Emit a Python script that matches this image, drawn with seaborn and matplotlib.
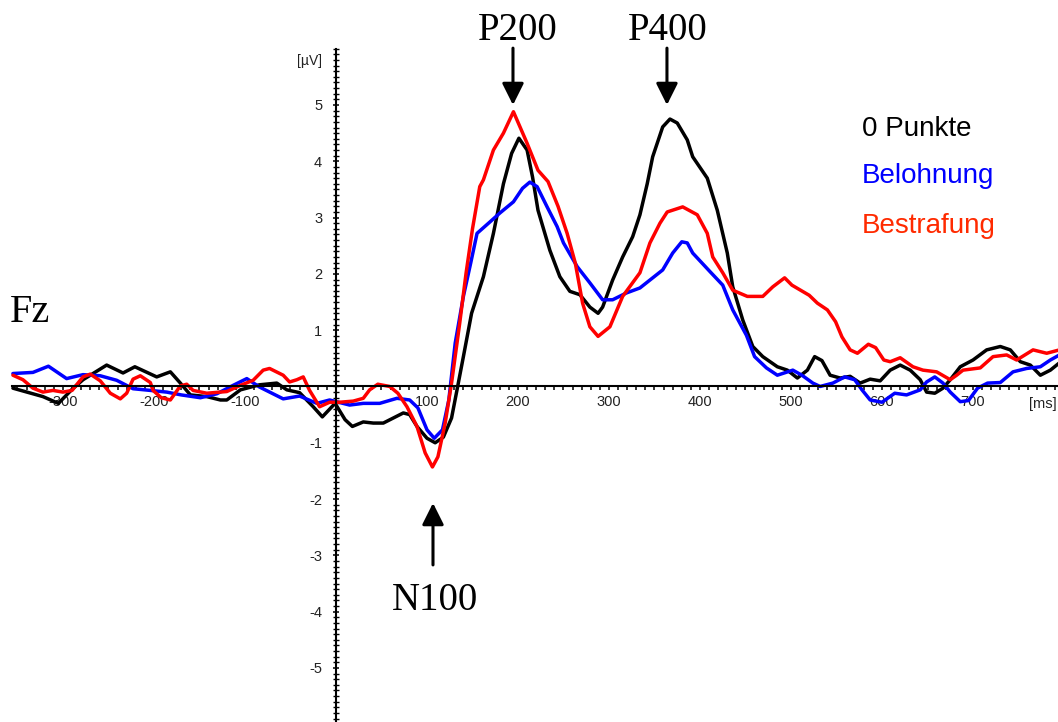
import numpy as np
import pandas as pd
import matplotlib
matplotlib.use("Agg")
import matplotlib.pyplot as plt
from matplotlib.ticker import FixedLocator
import seaborn as sns

# ---------------- data ----------------
t_black = [-355, -322, -305, -290, -278, -265, -252, -234, -221, -197, -182, -171, -160, -142, -127,
           -120, -105, -84, -65, -54, -40, -25, -15, -1, 10, 18, 30, 41, 52, 63, 74, 81, 89, 100,
           109, 118, 127, 133, 140, 149, 162, 173, 184, 193, 201, 210, 216, 222, 235, 246, 257,
           268, 279, 288, 293, 304, 315, 326, 334, 342, 348, 359, 367, 375, 386, 392, 408, 419,
           430, 436, 447, 458, 469, 485, 496, 507, 518, 526, 534, 543, 554, 565, 576, 587, 598,
           609, 620, 631, 642, 649, 658, 667, 675, 686, 700, 715, 730, 741, 752, 763, 774, 785, 795]
v_black = [-0.03, -0.18, -0.30, -0.05, 0.12, 0.25, 0.38, 0.24, 0.35, 0.17, 0.26, 0.06, -0.15, -0.18,
           -0.24, -0.24, -0.06, 0.03, 0.06, -0.06, -0.11, -0.36, -0.54, -0.30, -0.59, -0.71, -0.63,
           -0.65, -0.65, -0.56, -0.47, -0.50, -0.71, -0.92, -1.00, -0.90, -0.56, -0.06, 0.53, 1.30,
           1.95, 2.72, 3.60, 4.14, 4.41, 4.20, 3.72, 3.13, 2.42, 1.95, 1.69, 1.63, 1.41, 1.30, 1.41,
           1.89, 2.30, 2.66, 3.05, 3.60, 4.08, 4.61, 4.75, 4.68, 4.38, 4.08, 3.70, 3.13, 2.37, 1.77,
           1.18, 0.71, 0.53, 0.35, 0.29, 0.15, 0.29, 0.53, 0.46, 0.20, 0.15, 0.18, 0.06, 0.13, 0.10,
           0.29, 0.38, 0.29, 0.12, -0.10, -0.12, -0.03, 0.12, 0.35, 0.47, 0.65, 0.71, 0.65, 0.44,
           0.38, 0.20, 0.29, 0.42]

t_blue = [-355, -333, -316, -296, -278, -259, -241, -223, -204, -186, -170, -149, -131, -113, -98,
          -84, -58, -40, -21, -7, 15, 30, 48, 67, 81, 90, 100, 108, 117, 124, 131, 140, 148, 155,
          169, 180, 195, 205, 213, 221, 232, 243, 250, 265, 279, 293, 304, 319, 334, 359, 370, 380,
          386, 392, 411, 425, 436, 451, 460, 473, 485, 502, 512, 524, 532, 546, 559, 570, 578, 587,
          600, 614, 627, 642, 649, 658, 667, 675, 686, 695, 705, 716, 730, 744, 759, 774, 785, 795]
v_blue = [0.23, 0.25, 0.36, 0.14, 0.21, 0.19, 0.11, -0.04, -0.07, -0.10, -0.15, -0.20, -0.13, 0.02,
          0.14, -0.01, -0.22, -0.17, -0.30, -0.24, -0.33, -0.30, -0.30, -0.21, -0.24, -0.38, -0.77,
          -0.92, -0.77, -0.24, 0.77, 1.60, 2.19, 2.72, 2.92, 3.08, 3.28, 3.52, 3.63, 3.55, 3.19,
          2.84, 2.55, 2.13, 1.84, 1.54, 1.54, 1.66, 1.75, 2.07, 2.37, 2.57, 2.55, 2.37, 2.04, 1.80,
          1.36, 0.91, 0.53, 0.33, 0.20, 0.29, 0.20, 0.06, 0.00, 0.06, 0.17, 0.12, -0.06, -0.24,
          -0.28, -0.12, -0.15, -0.06, 0.08, 0.17, 0.06, -0.10, -0.27, -0.25, -0.03, 0.06, 0.07,
          0.26, 0.32, 0.35, 0.47, 0.56]

t_red = [-355, -344, -333, -322, -311, -300, -290, -278, -270, -259, -248, -237, -230, -223, -215,
         -204, -201, -192, -182, -171, -164, -157, -142, -120, -105, -91, -80, -73, -58, -51, -43,
         -36, -29, -18, -7, 4, 19, 30, 37, 46, 59, 68, 78, 89, 98, 106, 112, 120, 127, 136, 143,
         150, 158, 162, 173, 184, 195, 210, 222, 233, 244, 254, 263, 271, 279, 288, 301, 315, 334,
         345, 356, 364, 381, 397, 408, 414, 425, 436, 452, 469, 480, 493, 501, 520, 529, 540, 549,
         556, 565, 573, 585, 593, 602, 609, 620, 634, 645, 660, 675, 682, 689, 708, 722, 737, 748,
         766, 781, 795]
v_red = [0.20, 0.12, -0.03, -0.10, -0.07, -0.10, -0.07, 0.17, 0.22, 0.10, -0.12, -0.22, -0.12, 0.13,
         0.19, 0.07, -0.07, -0.20, -0.24, 0.01, 0.04, -0.07, -0.12, -0.09, 0.02, 0.11, 0.29, 0.32,
         0.20, 0.08, 0.12, 0.17, -0.07, -0.36, -0.28, -0.28, -0.26, -0.21, -0.06, 0.04, 0.00, -0.12,
         -0.36, -0.71, -1.18, -1.43, -1.25, -0.65, 0.06, 1.13, 2.02, 2.80, 3.55, 3.67, 4.20, 4.50,
         4.88, 4.32, 3.84, 3.64, 3.20, 2.72, 2.19, 1.48, 1.06, 0.89, 1.06, 1.60, 2.02, 2.55, 2.90,
         3.10, 3.19, 3.05, 2.72, 2.30, 2.02, 1.71, 1.60, 1.60, 1.77, 1.93, 1.80, 1.62, 1.48, 1.36,
         1.15, 0.88, 0.65, 0.59, 0.75, 0.69, 0.47, 0.44, 0.51, 0.35, 0.29, 0.26, 0.12, 0.20, 0.29,
         0.33, 0.53, 0.56, 0.47, 0.65, 0.59, 0.65]

conditions = ["0 Punkte", "Belohnung", "Bestrafung"]
line_colors = ["#000000", "#0000ff", "#ff0000"]
text_colors = ["#000000", "#0000ff", "#ff2a00"]

x_tick_values = [-300, -200, -100, 100, 200, 300, 400, 500, 600, 700]
y_tick_values = [-5, -4, -3, -2, -1, 1, 2, 3, 4, 5]

components = ["P200", "P400", "N100"]

df = pd.concat([
    pd.DataFrame({"ms": t_black, "uv": v_black, "cond": conditions[0]}),
    pd.DataFrame({"ms": t_blue, "uv": v_blue, "cond": conditions[1]}),
    pd.DataFrame({"ms": t_red, "uv": v_red, "cond": conditions[2]}),
], ignore_index=True)

# ---------------- style ----------------
sns.set_theme(style="white")
plt.rcParams["font.family"] = ["Liberation Sans", "DejaVu Sans"]

fig = plt.figure(figsize=(10.58, 7.22), dpi=100)
ax = fig.add_axes([0, 0, 1, 1])
ax.set_facecolor("white")

sns.lineplot(data=df, x="ms", y="uv", hue="cond", hue_order=conditions,
             palette=dict(zip(conditions, line_colors)), estimator=None, sort=True,
             linewidth=2.5, legend=False, ax=ax)

ax.set_xlim(-369.2, 793.4)
ax.set_ylim(-5.96, 6.865)
ax.set_xlabel("")
ax.set_ylabel("")

# axes through origin
for s in ["top", "right"]:
    ax.spines[s].set_visible(False)
ax.spines["left"].set_position(("data", 0))
ax.spines["bottom"].set_position(("data", 0))
ax.spines["left"].set_bounds(-6, 6)
ax.spines["bottom"].set_bounds(-356, 793.4)
for s in ["left", "bottom"]:
    ax.spines[s].set_color("black")
    ax.spines[s].set_linewidth(1.5)
    ax.spines[s].set_zorder(2.6)

ax.xaxis.set_major_locator(FixedLocator(x_tick_values))
ax.xaxis.set_minor_locator(FixedLocator(np.arange(-350, 791, 10)))
ax.yaxis.set_major_locator(FixedLocator(y_tick_values))
ax.yaxis.set_minor_locator(FixedLocator(np.round(np.arange(-6, 6.01, 0.1), 2)))
ax.set_xticklabels([str(v) for v in x_tick_values])
ax.set_yticklabels([str(v) for v in y_tick_values])

ax.tick_params(axis="x", which="both", direction="out", length=3, width=1.1,
               color="black", bottom=True)
ax.tick_params(axis="x", which="major", labelsize=10.5, labelcolor="#222222", pad=3.2)
ax.tick_params(axis="y", which="major", direction="inout", length=5, width=1.1,
               color="black", labelsize=10.5, labelcolor="#222222", pad=7.5, left=True)
ax.tick_params(axis="y", which="minor", direction="inout", length=4, width=1.0,
               color="black", left=True)

for tk in ax.xaxis.get_major_ticks():
    tk.label1.set_bbox(dict(facecolor="white", edgecolor="none", pad=1.0))

# unit labels
ax.text(-15.4, 5.78, "[\u00b5V]", ha="right", va="center", fontsize=10, color="#222222")
ax.text(792, -0.38, "[ms]", ha="right", va="baseline", fontsize=10.5, color="#222222",
        bbox=dict(facecolor="white", edgecolor="none", pad=1.0), zorder=3)

# component annotations
serif = ["Liberation Serif", "DejaVu Serif"]
comp_text_pos = [(200, 6.15), (364.8, 6.15), (108.8, -3.97)]
comp_arrow = [((194.5, 5.0), (194.5, 6.01)), ((363.7, 5.0), (363.7, 6.01)),
              ((106.6, -2.07), (106.6, -3.17))]
for name, (tx, ty), (tip, start) in zip(components, comp_text_pos, comp_arrow):
    ax.text(tx, ty, name, ha="center", va="baseline", fontsize=28, family=serif, color="black")
    ax.annotate("", xy=tip, xytext=start,
                arrowprops=dict(arrowstyle="-|>,head_length=0.6,head_width=0.3", lw=2.2,
                                color="black", shrinkA=0, shrinkB=0, mutation_scale=22))

ax.text(-358, 1.14, "Fz", ha="left", va="baseline", fontsize=29, family=serif, color="black")

# legend-like labels
legend_y = [4.45, 3.61, 2.72]
for name, col, ly in zip(conditions, text_colors, legend_y):
    ax.text(578, ly, name, ha="left", va="baseline", fontsize=20, color=col)

fig.savefig("out.png", dpi=100, facecolor="white")
